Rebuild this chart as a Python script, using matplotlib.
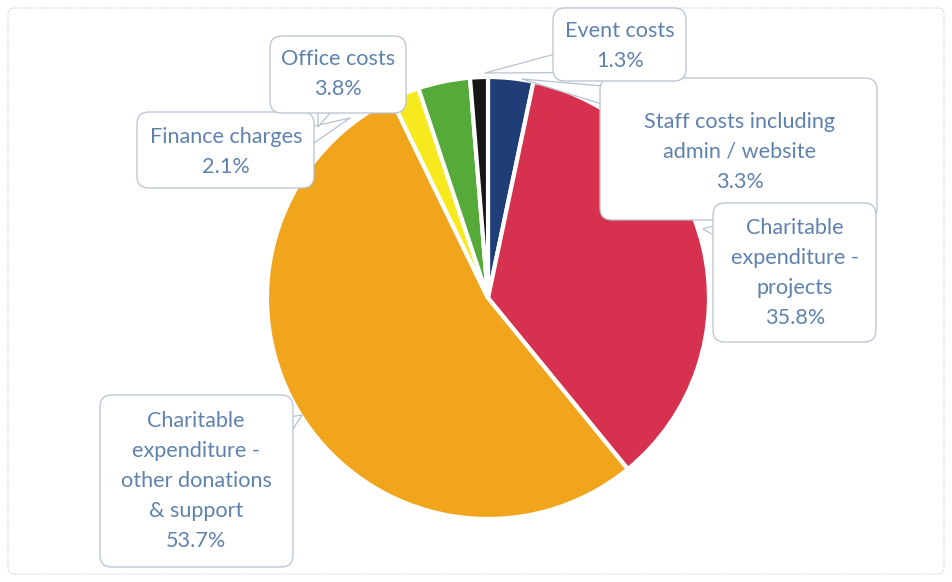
#### __import packages__ ####

import matplotlib.pyplot as plt
from matplotlib.patches import FancyBboxPatch

#### __data__ ####

labels = ["Staff costs including\nadmin / website",
          "Charitable\nexpenditure -\nprojects",
          "Charitable\nexpenditure -\nother donations\n& support",
          "Finance charges",
          "Office costs",
          "Event costs"]
shares = [3.3, 35.8, 53.7, 2.1, 3.8, 1.3]
colors = ["#1f3e78", "#d6324f", "#f0a51c", "#f6ea1e", "#56aa3a", "#161616"]

# callout layout in pixels (left, top, right, bottom), tail base and tail tip
boxes = [(600, 78, 877, 220), (713, 203, 876, 342), (100, 395, 293, 567),
         (137, 112, 314, 188), (270, 36, 406, 113), (553, 8, 686, 81)]
text_pos = [(740, 152), (795, 273), (196, 481), (226, 152), (338, 74), (620, 46)]
tail_base = [(618, 98), (728, 232), (282, 428), (300, 140), (328, 100), (566, 62)]
tail_tip = [(522, 79), (703, 229), (302, 415), (350, 118), (318, 127), (485, 73)]

W, H = 952, 582
TEXT_COL = "#5f82ad"
EDGE_COL = "#b6c2d1"


def fy(y):
    # flip a pixel row into data y
    return H - y


#### __plot__ ####

fig = plt.figure(figsize=(W / 100, H / 100), dpi=100)
ax = fig.add_axes([0, 0, 1, 1])

ax.pie(shares, colors=colors, startangle=90, counterclock=False,
       center=(488, fy(298)), radius=221,
       wedgeprops=dict(edgecolor="white", linewidth=3))
ax.set_xlim(0, W)
ax.set_ylim(0, H)
ax.axis("off")

# faint frame around the chart
ax.add_patch(FancyBboxPatch((8, fy(574)), W - 16, 566,
                            boxstyle="round,pad=0,rounding_size=6",
                            fc="none", ec="#dcdcdc", lw=0.8, ls=(0, (2, 1))))

for i, lab in enumerate(labels):
    pct = f"{shares[i]:.1f}%"
    l, t, r, b = boxes[i]
    # tail drawn first, box covers its base
    ax.annotate("", xy=(tail_tip[i][0], fy(tail_tip[i][1])),
                xytext=(tail_base[i][0], fy(tail_base[i][1])),
                arrowprops=dict(arrowstyle="wedge,tail_width=1.1",
                                fc="white", ec=EDGE_COL, lw=0.9,
                                shrinkA=0, shrinkB=0, patchA=None,
                                mutation_scale=14),
                zorder=3 + i * 3)
    ax.add_patch(FancyBboxPatch((l, fy(b)), r - l, b - t,
                                boxstyle="round,pad=0,rounding_size=12",
                                fc="white", ec=EDGE_COL, lw=0.9,
                                zorder=4 + i * 3))
    ax.text(text_pos[i][0], fy(text_pos[i][1]), lab + "\n" + pct,
            ha="center", va="center", color=TEXT_COL, fontsize=15.6,
            family="Lato", linespacing=1.62, zorder=5 + i * 3)

fig.savefig("out.png", dpi=100)
